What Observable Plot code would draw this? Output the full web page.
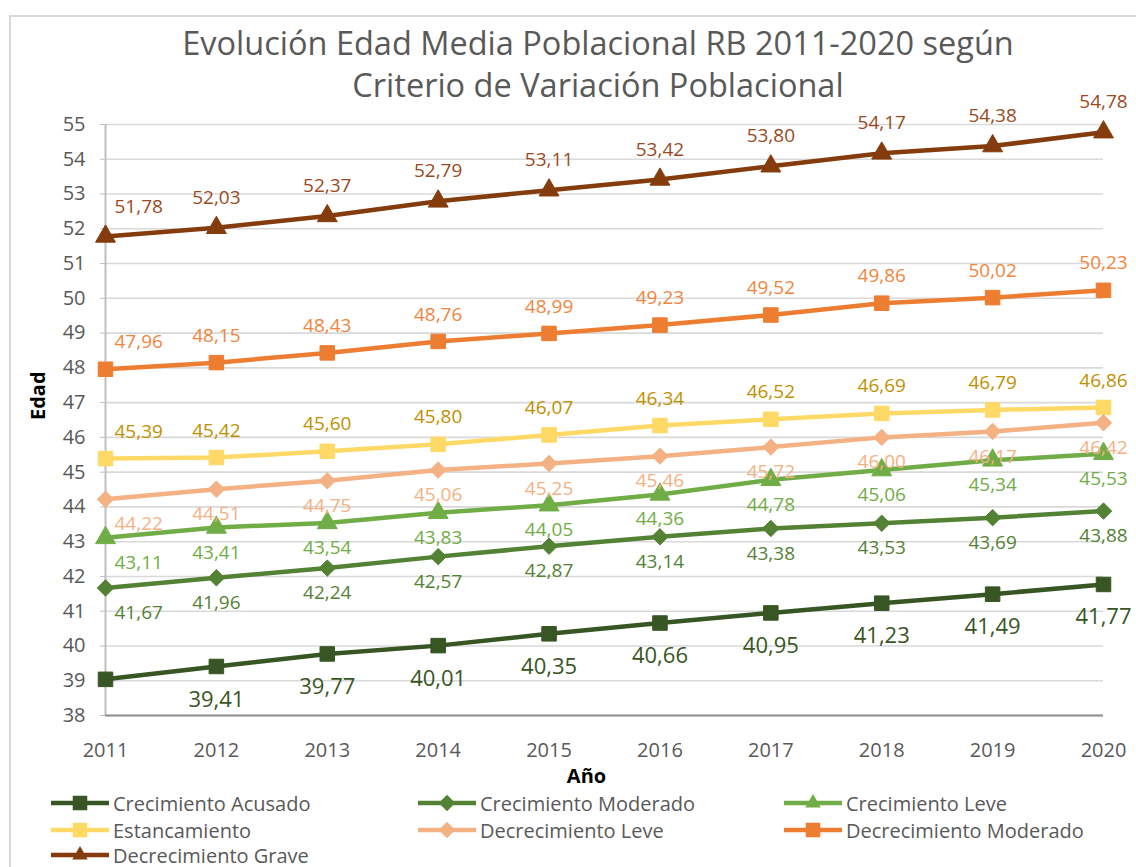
<!DOCTYPE html>
<html>
<head>
<meta charset="utf-8">
<script src="https://cdn.jsdelivr.net/npm/d3@7"></script>
<script src="https://cdn.jsdelivr.net/npm/@observablehq/plot@0.6"></script>
<style>
  html, body { margin: 0; padding: 0; background: #fff; }
  #wrap { position: relative; width: 1136px; height: 867px; overflow: hidden; font-family: "Open Sans", sans-serif; }
  #wrap svg.plot { position: absolute; left: 0; top: 0; }
  .title { position: absolute; left: 0; width: 1196px; text-align: center; color: #595959; font-size: 32.5px; line-height: 1; white-space: nowrap; }
  .bl { position: absolute; background: #d9d9d9; }
  .leg { position: absolute; display: flex; align-items: center; color: #595959; font-size: 20px; white-space: nowrap; }
  .leg svg { margin-right: 3px; }
</style>
</head>
<body>
<div id="wrap">
  <div class="bl" style="left:9px;top:15px;width:2px;height:860px"></div>
  <div class="bl" style="left:9px;top:15px;width:1130px;height:2px"></div>
  <div class="title" style="top:27px">Evolución Edad Media Poblacional RB 2011-2020 según</div>
  <div class="title" style="top:69px">Criterio de Variación Poblacional</div>
</div>
<script>
const years = [2011, 2012, 2013, 2014, 2015, 2016, 2017, 2018, 2019, 2020];
const seriesNames = ["Crecimiento Acusado", "Crecimiento Moderado", "Crecimiento Leve", "Estancamiento", "Decrecimiento Leve", "Decrecimiento Moderado", "Decrecimiento Grave"];
const lineColors = ["#375623", "#548235", "#70ad47", "#ffd966", "#f4b183", "#ed7d31", "#843c0c"];
const labelColors = ["#375623", "#548235", "#70ad47", "#bf9000", "#f4b183", "#f0853e", "#9a4a1e"];
const symbols = ["square", "diamond2", "triangle", "square", "diamond2", "square", "triangle"];
const labelSide = ["below", "below", "below", "above", "below", "above", "above"];

const crecimientoAcusado = [39.04, 39.41, 39.77, 40.01, 40.35, 40.66, 40.95, 41.23, 41.49, 41.77];
const crecimientoModerado = [41.67, 41.96, 42.24, 42.57, 42.87, 43.14, 43.38, 43.53, 43.69, 43.88];
const crecimientoLeve = [43.11, 43.41, 43.54, 43.83, 44.05, 44.36, 44.78, 45.06, 45.34, 45.53];
const estancamiento = [45.39, 45.42, 45.60, 45.80, 46.07, 46.34, 46.52, 46.69, 46.79, 46.86];
const decrecimientoLeve = [44.22, 44.51, 44.75, 45.06, 45.25, 45.46, 45.72, 46.00, 46.17, 46.42];
const decrecimientoModerado = [47.96, 48.15, 48.43, 48.76, 48.99, 49.23, 49.52, 49.86, 50.02, 50.23];
const decrecimientoGrave = [51.78, 52.03, 52.37, 52.79, 53.11, 53.42, 53.80, 54.17, 54.38, 54.78];
const seriesValues = [crecimientoAcusado, crecimientoModerado, crecimientoLeve, estancamiento, decrecimientoLeve, decrecimientoModerado, decrecimientoGrave];
// label of the first point of "Crecimiento Acusado" is not shown in the original
const hiddenLabels = [["Crecimiento Acusado", 2011]];

const yTicks = d3.range(38, 56);

const data = [];
seriesNames.forEach((s, i) => {
  years.forEach((yr, j) => {
    data.push({series: s, year: yr, value: seriesValues[i][j], idx: i});
  });
});

const fmt = v => v.toFixed(2).replace(".", ",");
const isHidden = d => hiddenLabels.some(([s, y]) => s === d.series && y === d.year);

const symR = {square: 8.2, diamond2: 7.4, triangle: 7.4};

const marks = [
  Plot.gridY(yTicks, {stroke: "#d9d9d9", strokeOpacity: 1, strokeWidth: 1.6}),
  Plot.ruleX([2011], {stroke: "#bfbfbf", strokeWidth: 2}),
  Plot.ruleY([38], {stroke: "#8c8c8c", strokeWidth: 2.2}),
  Plot.axisY(yTicks, {tickSize: 5, tickPadding: 15, fontSize: 20, fill: "#595959", stroke: "#bfbfbf", label: null, tickFormat: d => String(d)}),
  Plot.axisX(years, {tickSize: 0, tickPadding: 27, fontSize: 20, fill: "#595959", label: null, tickFormat: d => String(d)}),
  Plot.text(["Edad"], {frameAnchor: "left", rotate: -90, dx: -67, fontSize: 20, fontWeight: "bold", fill: "#000"}),
  Plot.text(["Año"], {frameAnchor: "bottom", dy: 67, dx: -18, fontSize: 20, fontWeight: "bold", fill: "#000"})
];

seriesNames.forEach((s, i) => {
  const sub = data.filter(d => d.series === s);
  marks.push(Plot.line(sub, {x: "year", y: "value", stroke: lineColors[i], strokeWidth: 4.5}));
});
seriesNames.forEach((s, i) => {
  const sub = data.filter(d => d.series === s);
  marks.push(Plot.dot(sub, {x: "year", y: "value", symbol: () => symbols[i], fill: lineColors[i], stroke: lineColors[i], strokeWidth: 1, r: symR[symbols[i]]}));
});
seriesNames.forEach((s, i) => {
  const sub = data.filter(d => d.series === s && !isHidden(d));
  const acusado = i === 0;
  const dy = labelSide[i] === "above" ? (i === 6 ? -30 : -27) : (acusado ? 33 : 25);
  const fs = acusado ? 22 : 19;
  marks.push(Plot.text(sub.filter(d => d.year !== 2011), {x: "year", y: "value", text: d => fmt(d.value), dy, fill: labelColors[i], fontSize: fs}));
  marks.push(Plot.text(sub.filter(d => d.year === 2011), {x: "year", y: "value", text: d => fmt(d.value), dy, dx: 9, textAnchor: "start", fill: labelColors[i], fontSize: fs}));
});

const chart = Plot.plot({
  width: 1136,
  height: 867,
  marginTop: 124,
  marginBottom: 152,
  marginLeft: 105,
  marginRight: 33,
  style: {fontFamily: "Open Sans, sans-serif", background: "transparent", overflow: "visible"},
  x: {domain: [2011, 2020], axis: null},
  y: {domain: [38, 55], axis: null},
  symbol: {type: "identity"},
  marks
});
chart.classList.add("plot");
const wrap = document.getElementById("wrap");
wrap.insertBefore(chart, wrap.firstChild);

// Legend
const colX = [50, 417, 783];
const rowY = [803, 830, 855];
seriesNames.forEach((s, i) => {
  const col = i % 3, row = Math.floor(i / 3);
  const item = document.createElement("div");
  item.className = "leg";
  item.style.left = colX[col] + "px";
  item.style.top = (rowY[row] - 13) + "px";
  item.style.height = "26px";
  const g = d3.create("svg").attr("width", 60).attr("height", 26);
  g.append("line").attr("x1", 1).attr("x2", 59).attr("y1", 13).attr("y2", 13).attr("stroke", lineColors[i]).attr("stroke-width", 4.5);
  const symMap = {square: d3.symbolSquare, diamond2: d3.symbolDiamond2, triangle: d3.symbolTriangle2};
  g.append("path").attr("transform", "translate(30,13)").attr("d", d3.symbol(symMap[symbols[i]], Math.PI * symR[symbols[i]] ** 2)()).attr("fill", lineColors[i]);
  item.appendChild(g.node());
  const t = document.createElement("span");
  t.textContent = s;
  item.appendChild(t);
  wrap.appendChild(item);
});
</script>
</body>
</html>
